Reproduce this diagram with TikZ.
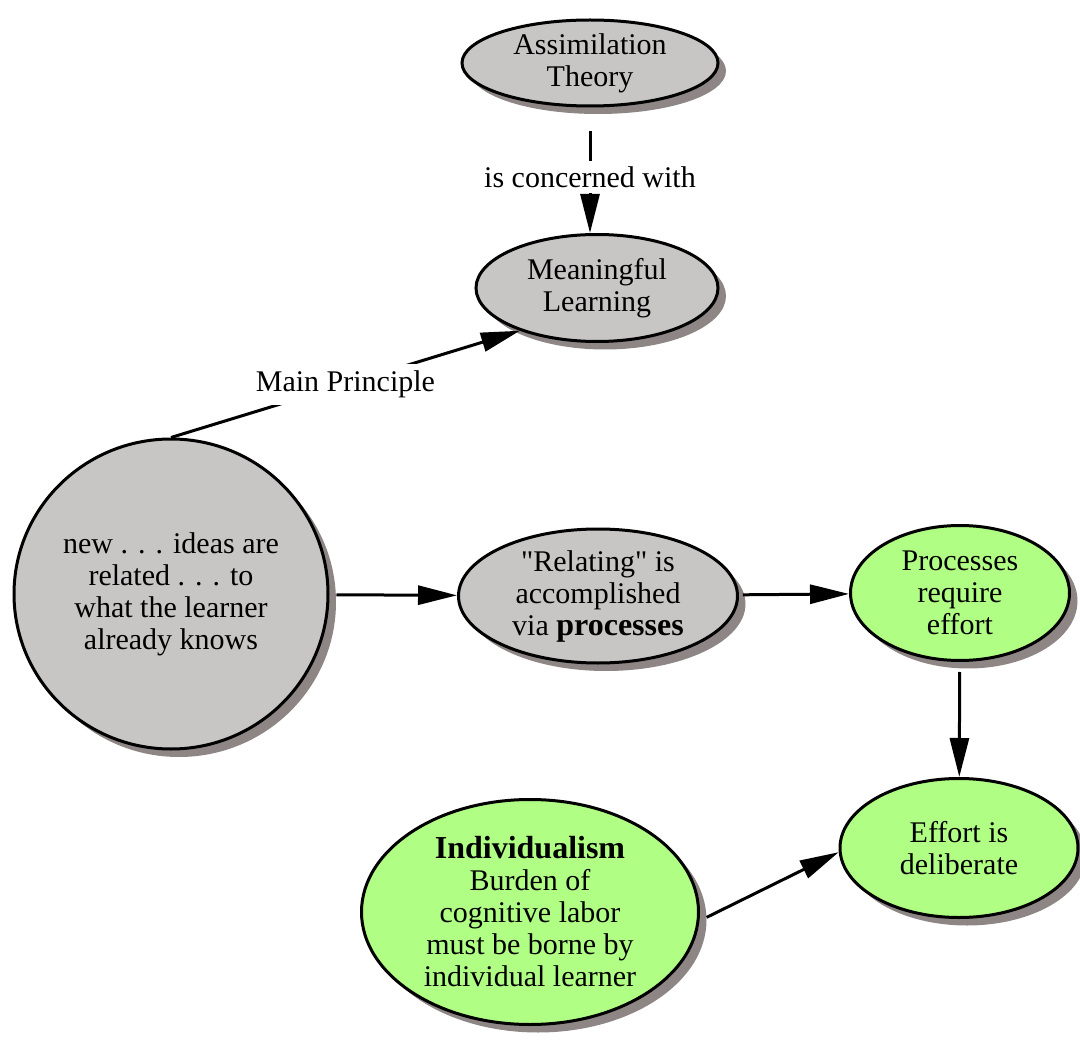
\documentclass[tikz,border=0pt]{standalone}
\usepackage{fontspec}
\setmainfont{Liberation Serif}
\newfontfamily\qfont{Liberation Serif}
\usetikzlibrary{arrows.meta,shapes.geometric,shadows}
\definecolor{cgray}{HTML}{C8C5C5}
\definecolor{cgreen}{HTML}{B0FF84}
\definecolor{cshadow}{HTML}{8E8585}
\begin{document}
\begin{tikzpicture}[x=1pt,y=-1pt, line width=3pt,
  concept/.style={ellipse, draw, line width=3pt, inner sep=0pt, align=center,
    font=\fontsize{30}{32}\selectfont,
    drop shadow={shadow xshift=8pt, shadow yshift=-8pt, opacity=1, fill=cshadow, draw=none}},
  grayc/.style={concept, fill=cgray},
  greenc/.style={concept, fill=cgreen},
  lbl/.style={font=\fontsize{30}{32}\selectfont, inner sep=4pt, fill=white},
  arr/.style={-{Triangle[length=39pt,width=19pt]}}
]
\useasboundingbox (0,0) rectangle (1080,1051);

\node[grayc, minimum width=256pt, minimum height=86pt] (at) at (590,63) {Assimilation\\Theory};
\node[grayc, minimum width=242pt, minimum height=107pt] (ml) at (597,288) {Meaningful\\Learning};
\node[grayc, minimum width=314pt, minimum height=310pt] (big) at (171,594) {new . . . ideas are\\related . . . to\\what the learner\\already knows};
\node[grayc, minimum width=279pt, minimum height=134pt] (rel) at (598,596) {{\qfont"}Relating{\qfont"} is\\accomplished\\via {\fontsize{32}{32}\selectfont\bfseries processes}};
\node[greenc, minimum width=219pt, minimum height=135pt] (proc) at (960,593) {Processes\\require\\effort};
\node[greenc, minimum width=238pt, minimum height=139pt] (eff) at (959,848) {Effort is\\deliberate};
\node[greenc, minimum width=337pt, minimum height=225pt] (ind) at (530,912) {{\fontsize{32}{32}\selectfont\bfseries Individualism}\\Burden of\\cognitive labor\\must be borne by\\individual learner};

\node[lbl] (l1) at (590,177) {is concerned with};

\draw[shorten <=24pt] (at) -- (l1);
\draw[arr] (l1) -- (l1 |- ml.north);
\draw[arr] (big.north) -- node[lbl, inner sep=7pt] (l2) {Main Principle} (ml.209);
\draw[arr, shorten <=7pt] (big) -- (rel);
\draw[arr, shorten <=4pt] (rel) -- (proc);
\draw[arr, shorten <=10pt] (proc) -- (eff);
\draw[arr, shorten <=8pt] (ind.-3) -- (eff.182);
\end{tikzpicture}
\end{document}
